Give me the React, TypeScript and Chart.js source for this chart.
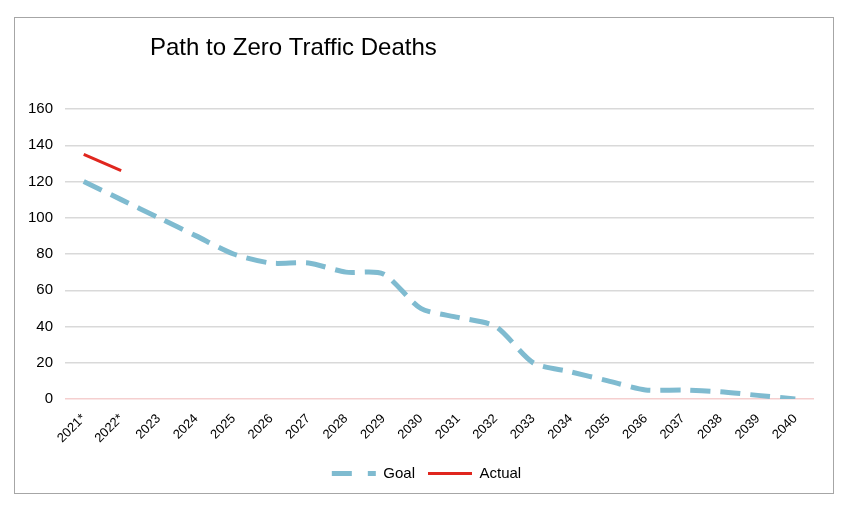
import { useEffect, useRef } from 'react'
import { Chart, registerables } from 'chart.js'

Chart.register(...registerables)

const years = ['2021*', '2022*', '2023', '2024', '2025', '2026', '2027', '2028', '2029', '2030', '2031', '2032', '2033', '2034', '2035', '2036', '2037', '2038', '2039', '2040']
const goal = [120, 110, 100, 90, 80, 75, 75, 70, 69, 50, 45, 40, 20, 15, 10, 5, 5, 4, 2, 0]
const actual = [135, 126, null, null, null, null, null, null, null, null, null, null, null, null, null, null, null, null, null, null]
const chartTitle = 'Path to Zero Traffic Deaths'

const FONT = "'Liberation Sans', Arial, sans-serif"
const GOAL_COLOR = '#7FBBD0'
const ACTUAL_COLOR = '#E0261E'

// title sits left-ish, not centred, so draw it by hand
const titlePlugin = {
  id: 'leftTitle',
  afterDraw(chart: Chart) {
    const { ctx } = chart
    ctx.save()
    ctx.font = `24px ${FONT}`
    ctx.fillStyle = '#000'
    ctx.textBaseline = 'middle'
    ctx.fillText(chartTitle, 135, 30)
    ctx.restore()
  },
}

// legend in the original sits a bit right of the canvas centre
const legendShift = {
  id: 'legendShift',
  afterLayout(chart: any) {
    const lg = chart.legend
    if (!lg) return
    lg.left += 12
    lg.right += 12
  },
}

export default function App() {
  const canvasRef = useRef<HTMLCanvasElement>(null)

  useEffect(() => {
    if (!canvasRef.current) return
    const chart = new Chart(canvasRef.current, {
      type: 'line',
      data: {
        labels: years,
        datasets: [
          {
            label: 'Goal',
            data: goal,
            borderColor: GOAL_COLOR,
            backgroundColor: GOAL_COLOR,
            borderWidth: 5,
            borderDash: [20, 10],
            pointRadius: 0,
            tension: 0.25,
          },
          {
            label: 'Actual',
            data: actual,
            borderColor: ACTUAL_COLOR,
            backgroundColor: ACTUAL_COLOR,
            borderWidth: 3,
            pointRadius: 0,
            tension: 0,
          },
        ],
      },
      options: {
        animation: false,
        responsive: true,
        maintainAspectRatio: false,
        layout: { padding: { top: 91, right: 19, left: 0, bottom: 2 } },
        plugins: {
          title: { display: false },
          tooltip: { enabled: false },
          legend: {
            position: 'bottom',
            labels: {
              usePointStyle: true,
              pointStyleWidth: 44,
              boxWidth: 44,
              boxHeight: 10,
              color: '#000',
              font: { family: FONT, size: 15 },
              padding: 13,
              generateLabels: (c: Chart) =>
                c.data.datasets.map((ds: any, i: number) => ({
                  text: ds.label,
                  datasetIndex: i,
                  pointStyle: 'line',
                  strokeStyle: ds.borderColor,
                  fillStyle: ds.borderColor,
                  fontColor: '#000',
                  lineWidth: i === 0 ? 5 : 3,
                  lineDash: i === 0 ? [20, 16] : [],
                  hidden: false,
                })),
            },
          },
        },
        scales: {
          x: {
            offset: true,
            afterFit: (s: any) => { s.height = 54 },
            grid: { display: false },
            border: { display: false },
            ticks: {
              color: '#000',
              font: { family: FONT, size: 13 },
              maxRotation: 45,
              minRotation: 45,
              autoSkip: false,
              padding: 4,
            },
          },
          y: {
            min: 0,
            max: 160,
            afterFit: (s: any) => { s.width = 50 },
            border: { display: false },
            grid: {
              drawTicks: false,
              color: (c: any) => (c.tick && c.tick.value === 0 ? '#F5CFCF' : '#D9D9D9'),
              lineWidth: 1.5,
            },
            ticks: {
              stepSize: 20,
              color: '#000',
              font: { family: FONT, size: 15 },
              padding: 12,
            },
          },
        },
      },
      plugins: [titlePlugin, legendShift],
    })
    return () => chart.destroy()
  }, [])

  return (
    <div style={{ position: 'fixed', left: 0, top: 0, width: 850, height: 506, background: '#fff' }}>
      <div style={{ position: 'absolute', left: 14, top: 17, width: 818, height: 475, border: '1px solid #A6A6A6' }}>
        <canvas ref={canvasRef} />
      </div>
    </div>
  )
}
